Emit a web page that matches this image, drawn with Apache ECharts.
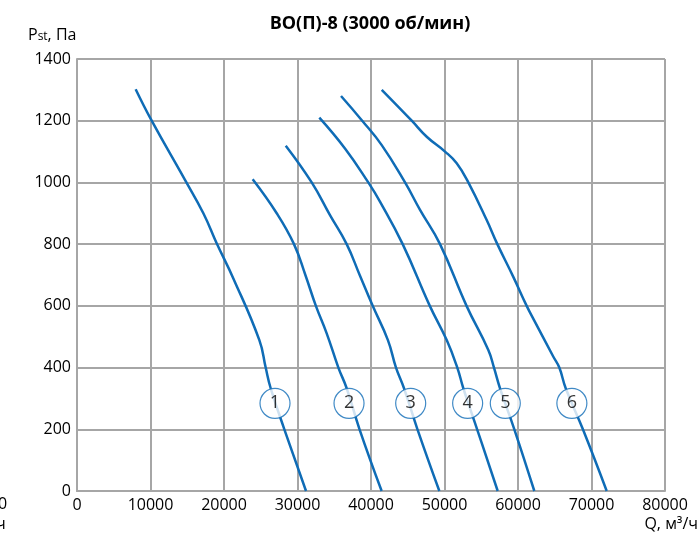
<!DOCTYPE html>
<html><head><meta charset="utf-8">
<script src="https://cdn.jsdelivr.net/npm/echarts@6/dist/echarts.min.js"></script>
<style>html,body{margin:0;padding:0;background:#fff}#c{width:700px;height:536px}</style>
</head><body><div id="c"></div>
<script>
var xTicks = [0, 10000, 20000, 30000, 40000, 50000, 60000, 70000, 80000];
var yTicks = [0, 200, 400, 600, 800, 1000, 1200, 1400];
var curveNames = ['1', '2', '3', '4', '5', '6'];
var curve1 = [[7980,1302],[10160,1200],[14690,1008],[17190,900],[19000,803],[21270,689],[24810,489],[25670,400],[26350,333],[28210,200],[31160,0]];
var curve2 = [[23900,1010],[27170,900],[29520,800],[31070,700],[32500,600],[33970,511],[35560,400],[36690,333],[38440,200],[41450,0]];
var curve3 = [[28400,1119],[31930,1000],[34420,894],[36690,800],[38460,700],[40230,600],[42300,489],[43400,400],[44490,333],[46320,200],[49300,0]];
var curve4 = [[32970,1210],[36460,1110],[39630,1000],[41220,938],[44310,800],[48000,600],[50300,489],[51740,400],[52560,333],[54440,200],[57240,0]];
var curve5 = [[35920,1280],[38800,1200],[41460,1121],[44630,1000],[46670,911],[49390,800],[53000,600],[55960,457],[56730,400],[57550,333],[59500,200],[62220,0]];
var curve6 = [[41460,1300],[45540,1200],[47580,1148],[50070,1100],[51660,1062],[53240,1000],[55740,878],[57190,800],[59360,694],[61180,600],[62180,554],[64810,435],[65620,400],[66490,333],[68830,200],[72070,0]];
var curves = [curve1, curve2, curve3, curve4, curve5, curve6];
var labelPoints = [[26940,284],[37010,284],[45400,284],[53150,284],[58270,284],[67330,284]];

var chart = echarts.init(document.getElementById('c'), null, {renderer: 'canvas'});
var FONT = 'Open Sans';
var blue = '#0f6cb6';
var series = curves.map(function (d, i) {
  return {
    type: 'line', name: curveNames[i], data: d, smooth: 0.45, showSymbol: false,
    lineStyle: {color: blue, width: 2.5}, z: 2, animation: false
  };
});
series.push({
  type: 'scatter', name: 'labels',
  data: labelPoints.map(function (p, i) { return {value: p, name: curveNames[i]}; }),
  symbol: 'circle', symbolSize: 30,
  itemStyle: {color: '#fff', borderColor: blue, borderWidth: 1.2},
  label: {show: true, position: 'inside', formatter: '{b}', color: '#000', fontSize: 18, fontFamily: FONT},
  z: 5, animation: false
});
chart.setOption({
  animation: false,
  grid: {left: 77, right: 35, top: 59, bottom: 45, containLabel: false},
  title: {
    text: 'ВО(П)-8 (3000 об/мин)', left: 365, top: 10, textAlign: 'center',
    textStyle: {fontSize: 18, fontWeight: 'bold', color: '#000', fontFamily: FONT}
  },
  xAxis: {
    type: 'value', min: 0, max: 80000, interval: 10000,
    axisLine: {show: true, lineStyle: {color: '#a6a6a6', width: 2}},
    axisTick: {show: false},
    splitLine: {show: true, lineStyle: {color: '#a6a6a6', width: 2}},
    axisLabel: {color: '#000', fontSize: 16, fontFamily: FONT, margin: 6,
      formatter: function (v) { return xTicks.indexOf(v) >= 0 ? String(v) : ''; }}
  },
  yAxis: {
    type: 'value', min: 0, max: 1400, interval: 200,
    axisLine: {show: true, lineStyle: {color: '#a6a6a6', width: 2}},
    axisTick: {show: false},
    splitLine: {show: true, lineStyle: {color: '#a6a6a6', width: 2}},
    axisLabel: {color: '#000', fontSize: 16, fontFamily: FONT, margin: 6,
      formatter: function (v) { return yTicks.indexOf(v) >= 0 ? String(v) : ''; }}
  },
  graphic: [
    {type: 'text', left: 28, top: 27, style: {
      text: '{a|P}{b|st}{a|, Па}',
      rich: {a: {fontSize: 16, fontFamily: FONT, fill: '#000'}, b: {fontSize: 12, fontFamily: FONT, fill: '#000', padding: [4, 0, 0, 0]}}
    }},
    {type: 'text', right: 2, top: 516, style: {text: 'Q, м³/ч', fontSize: 16, fontFamily: FONT, fill: '#000'}},
    {type: 'text', left: -2, top: 496, style: {text: '0', fontSize: 16, fontFamily: FONT, fill: '#000'}},
    {type: 'text', left: -4, top: 516, style: {text: 'ч', fontSize: 16, fontFamily: FONT, fill: '#000'}}
  ],
  series: series
});
</script></body></html>
